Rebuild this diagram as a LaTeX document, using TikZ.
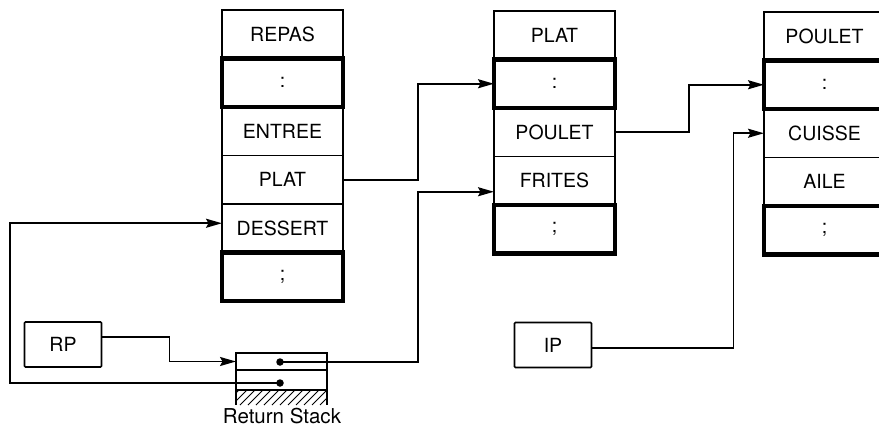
\documentclass[tikz,border=0pt]{standalone}
\usepackage{fontspec}
\setmainfont{TeX Gyre Heros}
\usetikzlibrary{positioning, arrows.meta}

\begin{document}
\begin{tikzpicture}[
  x=1pt, y=-1pt,
  node distance=0pt,
  cell/.style={rectangle, draw, line width=1.7pt, outer sep=0pt, inner sep=0pt, minimum width=121pt, minimum height=48.5pt, font=\fontsize{19.5}{22}\selectfont},
  thickcell/.style={cell, line width=4.2pt},
  reg/.style={rectangle, draw, line width=1.7pt, rounded corners=1pt, minimum width=77pt, minimum height=45pt, font=\fontsize{19.5}{22}\selectfont},
  stackcell/.style={rectangle, draw, line width=1.5pt, outer sep=0pt, inner sep=0pt, minimum width=91pt},
  dot/.style={circle, fill, inner sep=0pt, minimum size=7.5pt},
  arr/.style={-{Stealth[length=16pt, width=9pt, inset=2.5pt]}, line width=1.7pt}
]
\useasboundingbox (0,0) rectangle (879,428);

% REPAS
\node[cell, anchor=north west] (repas) at (222,10) {REPAS};
\node[thickcell, below=of repas] (colon1) {:};
\node[cell, below=of colon1] (entree) {ENTREE};
\node[cell, below=of entree] (plat1) {PLAT};
\node[cell, below=of plat1] (dessert) {DESSERT};
\node[thickcell, below=of dessert] (semi1) {;};

% PLAT
\node[cell, anchor=north west] (plat2) at (494,11) {PLAT};
\node[thickcell, below=of plat2] (colon2) {:};
\node[cell, below=of colon2] (poulet2) {POULET};
\node[cell, below=of poulet2] (frites) {FRITES};
\node[thickcell, below=of frites] (semi2) {;};

% POULET
\node[cell, anchor=north west] (poulet3) at (764,12) {POULET};
\node[thickcell, below=of poulet3] (colon3) {:};
\node[cell, below=of colon3] (cuisse) {CUISSE};
\node[cell, below=of cuisse] (aile) {AILE};
\node[thickcell, below=of aile] (semi3) {;};

% registers
\node[reg] (rp) at (63,344.5) {RP};
\node[reg] (ip) at (553,345) {IP};

% return stack
\node[stackcell, minimum height=17pt, anchor=north west] (rstop) at (236,353) {};
\node[stackcell, minimum height=20pt, below=of rstop] (rsbot) {};
\begin{scope}
  \clip (236,390) rectangle (327,405);
  \foreach \x in {224,232,...,332}
    \draw[line width=1pt] (\x,405) -- ++(15,-15);
\end{scope}
\draw[line width=1.5pt] (rsbot.south west) -- ++(0,15);
\draw[line width=1.5pt] (rsbot.south east) -- ++(0,15);
\node[font=\fontsize{20.5}{22}\selectfont, inner sep=0pt] (rslabel) at (282,416) {Return Stack};
\node[dot] (ptr1) at (280,362) {};
\node[dot] (ptr2) at (280,383) {};

\draw[arr] (plat1.east) -- ++(75,0) |- (colon2.west);
\draw[arr] (poulet2.east) -- ++(74,0) |- (colon3.west);
\draw[arr] ([yshift=7.5pt]rp.east) -- ++(67,0) |- (rstop.west);
\draw[arr] (ptr1.center) -- ++(138,0) |- ([yshift=-11pt]frites.west);
\draw[arr] (ptr2.center) -- ++(-270,0) |- ([yshift=5pt]dessert.west);
\draw[arr] ([yshift=-3pt]ip.east) -- ++(141,0) |- (cuisse.west);
\end{tikzpicture}
\end{document}
